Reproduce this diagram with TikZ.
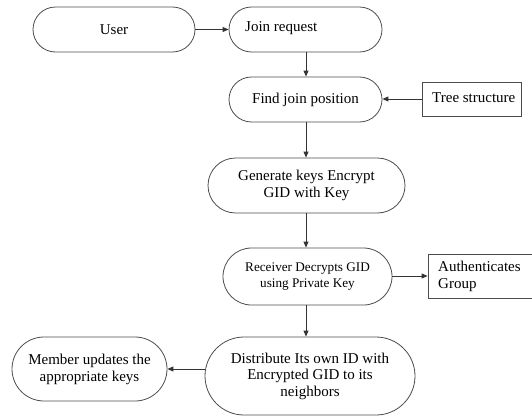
\documentclass[tikz,border=0pt]{standalone}
\usepackage{fontspec}
\setmainfont{Liberation Serif}
\usetikzlibrary{shapes.misc,arrows.meta}
\begin{document}
\begin{tikzpicture}[x=1pt,y=-1pt,
  stadium/.style={rounded rectangle, draw=black!70, line width=0.8pt, inner sep=0pt, font=\rmfamily\fontsize{15}{17}\selectfont, align=center},
  boxnode/.style={rectangle, draw=black!70, line width=0.8pt, inner sep=0pt},
  txt/.style={inner sep=0pt, font=\rmfamily\fontsize{15}{17}\selectfont, align=left},
  arr/.style={-{Triangle[length=6pt,width=5pt]}, draw=black!80, line width=0.9pt}]
\useasboundingbox (0,0) rectangle (532,415);
% nodes
\node[stadium, minimum width=162pt, minimum height=45pt] (user) at (114,29.5) {User};
\node[stadium, minimum width=153pt, minimum height=45pt] (join) at (305.5,29.5) {};
\node[txt, anchor=west] (jointxt) at (245,28) {Join request};
\node[stadium, minimum width=153pt, minimum height=45pt] (find) at (305.5,99.5) {Find join position};
\node[boxnode, minimum width=99pt, minimum height=34pt] (tree) at (471.5,99) {};
\node[txt, anchor=west] (treetxt) at (432,97.5) {Tree structure};
\node[stadium, minimum width=197pt, minimum height=55pt] (gen) at (306.5,185.5) {Generate keys Encrypt\\GID with Key};
\node[stadium, minimum width=169pt, minimum height=57pt, font=\rmfamily\fontsize{13.2}{16.5}\selectfont] (recv) at (307.5,276.5) {Receiver Decrypts GID\\using Private Key};
\node[boxnode, minimum width=110pt, minimum height=44pt] (auth) at (483,276) {};
\node[txt, anchor=west] (authtxt) at (438,276.5) {Authenticates\\Group};
\node[stadium, minimum width=210pt, minimum height=78pt, font=\rmfamily\fontsize{15}{16.5}\selectfont] (dist) at (310,376) {Distribute Its own ID with\\Encrypted GID to its\\neighbors};
\node[stadium, minimum width=155pt, minimum height=64pt] (member) at (89.5,369) {Member updates the\\appropriate keys};
% connectors
\draw[arr] (user.east) -- (join.west);
\draw[arr] (join.south -| 306,0) -- (find.north -| 306,0);
\draw[arr] (tree.west) -- (find.east |- tree.west);
\draw[arr] (find.south -| 306,0) -- (gen.north -| 306,0);
\draw[arr] (gen.south -| 306,0) -- (recv.north -| 306,0);
\draw[arr] (recv.east |- auth.west) -- (auth.west);
\draw[arr] (recv.south -| 306,0) -- (dist.north -| 306,0);
\draw[arr] (member.east -| dist.west) -- (member.east);
\end{tikzpicture}
\end{document}
